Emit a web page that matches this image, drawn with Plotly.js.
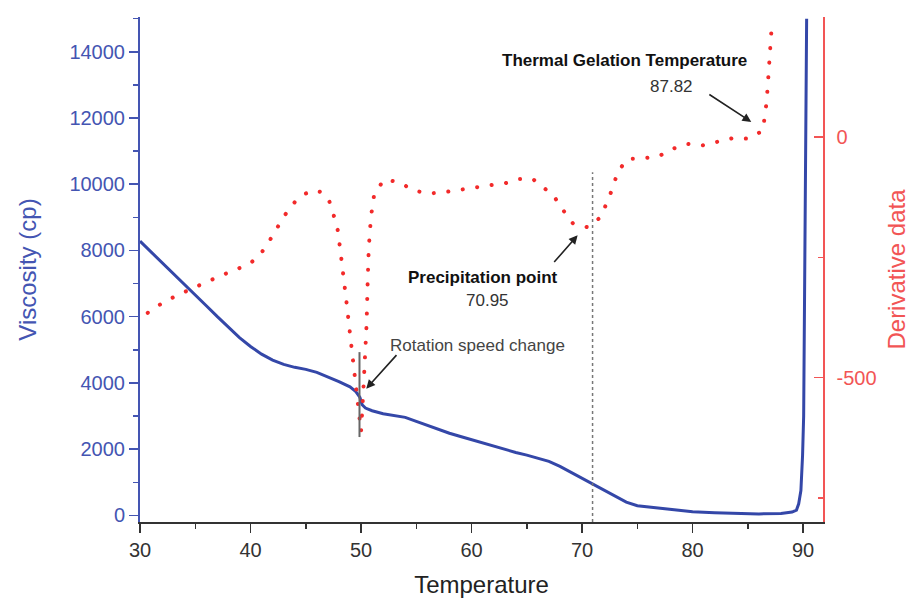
<!DOCTYPE html>
<html>
<head>
<meta charset="utf-8">
<script src="https://cdn.plot.ly/plotly-3.0.1.min.js"></script>
<style>
  html, body { margin: 0; padding: 0; background: #ffffff; }
  #chart { width: 910px; height: 599px; }
</style>
</head>
<body>
<div id="chart"></div>
<script>
// ---- Data ----
const temperatureV = [30, 31, 32, 33, 34, 35, 36, 37, 38, 39, 40, 41, 42, 43, 44, 45, 46, 47, 48, 49, 49.5, 49.9, 50.1, 50.4, 51, 52, 53, 54, 55, 56, 57, 58, 59, 60, 61, 62, 63, 64, 65, 66, 67, 68, 69, 70, 71, 72, 73, 74, 75, 76, 77, 78, 79, 80, 82, 84, 86, 88, 88.6, 89.0, 89.4, 89.6, 89.8, 89.95, 90.05, 90.12, 90.18, 90.25, 90.32];
const viscosity = [8280, 7960, 7630, 7300, 6970, 6650, 6330, 6000, 5680, 5370, 5100, 4870, 4690, 4560, 4470, 4410, 4320, 4190, 4040, 3880, 3750, 3560, 3340, 3240, 3160, 3070, 3010, 2960, 2840, 2720, 2590, 2480, 2380, 2280, 2180, 2080, 1990, 1900, 1820, 1730, 1630, 1480, 1300, 1120, 950, 780, 580, 400, 290, 250, 210, 170, 140, 110, 80, 55, 45, 55, 70, 100, 160, 350, 750, 1800, 3000, 5500, 9000, 12500, 15000];

const temperatureD = [30.7, 32.2, 33.6, 34.9, 36.3, 37.6, 39.0, 40.0, 41.0, 42.0, 43.0, 44.0, 45.0, 45.8, 46.5, 47.1, 47.5, 47.9, 48.2, 48.4, 48.7, 49.0, 49.3, 49.7, 50.0, 50.2, 50.4, 50.5, 50.6, 50.7, 50.9, 51.2, 52.1, 53.4, 54.8, 56.2, 57.6, 58.9, 60.3, 61.6, 63.0, 64.3, 65.5, 66.9, 67.4, 68.3, 69.2, 70.5, 71.7, 72.2, 72.8, 73.2, 74.1, 75.5, 76.9, 78.2, 79.6, 80.9, 82.3, 83.6, 85.0, 86.4, 86.5, 86.7, 86.8, 86.9, 87.0, 87.1, 87.2];
const derivative = [-365, -342, -326, -312, -299, -285, -272, -262, -240, -205, -165, -135, -117, -110, -115, -131, -160, -194, -249, -283, -346, -408, -470, -540, -612, -530, -450, -390, -300, -230, -165, -117, -88, -93, -111, -117, -114, -109, -105, -100, -96, -87, -86, -111, -121, -152, -180, -187, -166, -138, -104, -73, -45, -44, -40, -24, -14, -17, -10, -2, -3, 14, 41, 73, 107, 138, 170, 197, 245];

const precipitationT = 70.95;
const gelationT = 87.82;
const rotationT = 49.86;

// Tick labels
const xTickVals = [30, 40, 50, 60, 70, 80, 90];
const yTickVals = [0, 2000, 4000, 6000, 8000, 10000, 12000, 14000];
const y2TickVals = [-500, 0];
const y2TickText = ['-500', '0'];
const y2MinorVals = [-750, -250, 250];

const xTitle = 'Temperature';
const yTitle = 'Viscosity (cp)';
const y2Title = 'Derivative data';

// ---- Styles ----
const BLUE = '#3447a8';
const BLUE_AXIS = '#4455b2';
const RED = '#f22a2a';
const RED_AXIS = '#f25555';
const FONT = 'Liberation Sans, Arial, sans-serif';

const traces = [
  {
    x: temperatureV, y: viscosity, type: 'scatter', mode: 'lines',
    line: { color: BLUE, width: 3 }, yaxis: 'y', hoverinfo: 'skip'
  },
  {
    x: temperatureD, y: derivative, type: 'scatter', mode: 'lines',
    line: { color: RED, width: 4, dash: '0.1px,14.5px' }, yaxis: 'y2', hoverinfo: 'skip'
  }
];

const layout = {
  width: 910, height: 599,
  margin: { l: 140, r: 87, t: 17, b: 77, pad: 0 },
  paper_bgcolor: '#ffffff', plot_bgcolor: '#ffffff',
  showlegend: false,
  font: { family: FONT, size: 20, color: '#333' },
  xaxis: {
    range: [30, 91.8], tickmode: 'array', tickvals: xTickVals, tickformat: 'd',
    showgrid: false, zeroline: false,
    showline: true, linecolor: '#333', linewidth: 2,
    ticks: 'outside', ticklen: 9, tickwidth: 1.5, tickcolor: '#333',
    minor: { tickmode: 'linear', tick0: 35, dtick: 10, ticks: 'outside', ticklen: 5, tickwidth: 1.5, tickcolor: '#333', showgrid: false },
    tickfont: { family: FONT, size: 20, color: '#333' },
    title: { text: xTitle, font: { family: FONT, size: 24, color: '#222' }, standoff: 16 },
    automargin: false
  },
  yaxis: {
    range: [-200, 15050], tickmode: 'array', tickvals: yTickVals, tickformat: 'd',
    showgrid: false, zeroline: false,
    showline: true, linecolor: BLUE_AXIS, linewidth: 2,
    ticks: 'outside', ticklen: 9, tickwidth: 1.5, tickcolor: BLUE_AXIS,
    minor: { tickmode: 'linear', tick0: 1000, dtick: 2000, ticks: 'outside', ticklen: 5, tickwidth: 1.5, tickcolor: BLUE_AXIS, showgrid: false },
    tickfont: { family: FONT, size: 20, color: BLUE_AXIS },
    title: { text: yTitle, font: { family: FONT, size: 24, color: BLUE_AXIS }, standoff: 26 },
    automargin: false
  },
  yaxis2: {
    overlaying: 'y', side: 'right',
    range: [-800, 250], tickmode: 'array', tickvals: y2TickVals, ticktext: y2TickText,
    showgrid: false, zeroline: false,
    showline: true, linecolor: RED_AXIS, linewidth: 1.5,
    ticks: 'inside', ticklen: 9, tickwidth: 1.5, tickcolor: RED_AXIS,
    minor: { tickmode: 'array', tickvals: y2MinorVals, ticks: 'inside', ticklen: 5, tickwidth: 1.5, tickcolor: RED_AXIS, showgrid: false },
    tickfont: { family: FONT, size: 20, color: RED_AXIS },
    ticklabelstandoff: 8,
    title: { text: y2Title, font: { family: FONT, size: 24, color: RED_AXIS }, standoff: 22 },
    automargin: false
  },
  shapes: [
    {
      type: 'line', xref: 'x', yref: 'y',
      x0: precipitationT, x1: precipitationT, y0: -200, y1: 10360,
      line: { color: '#777', width: 1.5, dash: 'dot' }
    },
    {
      type: 'line', xref: 'x', yref: 'y',
      x0: rotationT, x1: rotationT, y0: 2365, y1: 4930,
      line: { color: '#666', width: 2 }
    }
  ],
  annotations: [
    {
      xref: 'x', yref: 'y', x: 52.4, y: 5136, xanchor: 'left', yanchor: 'middle',
      text: 'Rotation speed change', showarrow: false,
      font: { family: FONT, size: 17, color: '#444' }
    },
    {
      xref: 'x', yref: 'y', x: 50.47, y: 3826, axref: 'x', ayref: 'y', ax: 53.33, ay: 4885,
      text: '', showarrow: true, arrowhead: 2, arrowsize: 1.1, arrowwidth: 1.6, arrowcolor: '#222'
    },
    {
      xref: 'x', yref: 'y', x: 61.0, y: 7170, xanchor: 'center', yanchor: 'middle',
      text: '<b>Precipitation point</b>', showarrow: false,
      font: { family: FONT, size: 17, color: '#111' }
    },
    {
      xref: 'x', yref: 'y', x: 61.45, y: 6500, xanchor: 'center', yanchor: 'middle',
      text: String(precipitationT), showarrow: false,
      font: { family: FONT, size: 17, color: '#333' }
    },
    {
      xref: 'x', yref: 'y', x: 69.6, y: 8459, axref: 'x', ayref: 'y', ax: 67.36, ay: 7604,
      text: '', showarrow: true, arrowhead: 2, arrowsize: 1.1, arrowwidth: 1.6, arrowcolor: '#222'
    },
    {
      xref: 'x', yref: 'y', x: 73.87, y: 13746, xanchor: 'center', yanchor: 'middle',
      text: '<b>Thermal Gelation Temperature</b>', showarrow: false,
      font: { family: FONT, size: 17, color: '#111' }
    },
    {
      xref: 'x', yref: 'y', x: 78.07, y: 12940, xanchor: 'center', yanchor: 'middle',
      text: String(gelationT), showarrow: false,
      font: { family: FONT, size: 17, color: '#333' }
    },
    {
      xref: 'x', yref: 'y', x: 85.31, y: 11882, axref: 'x', ayref: 'y', ax: 81.38, ay: 12740,
      text: '', showarrow: true, arrowhead: 2, arrowsize: 1.1, arrowwidth: 1.6, arrowcolor: '#222'
    }
  ]
};

Plotly.newPlot('chart', traces, layout, { displayModeBar: false, staticPlot: true }).then(function (gd) {
  // round the dotted derivative line's dashes so they look like dots
  gd.querySelectorAll('.scatterlayer .js-line').forEach(function (p) {
    var da = p.style.strokeDasharray;
    if (da && da !== 'none' && da !== '') p.style.strokeLinecap = 'round';
  });
});
</script>
</body>
</html>
